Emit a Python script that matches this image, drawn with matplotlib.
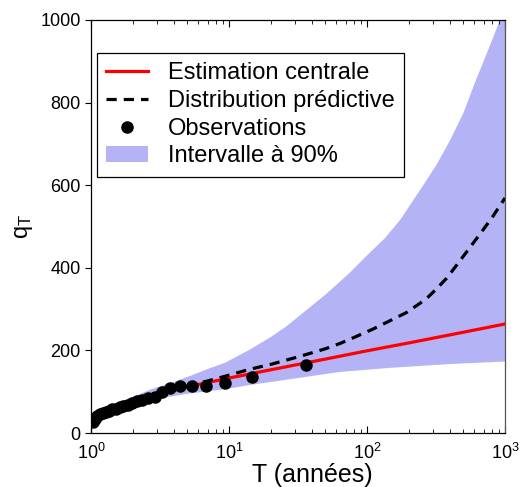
import numpy as np
import matplotlib
matplotlib.use('Agg')
import matplotlib.pyplot as plt

plt.rcParams['font.family'] = ['Liberation Sans', 'DejaVu Sans']
plt.rcParams['mathtext.default'] = 'regular'

# periode de retour (annees) et quantiles
T_central = [1.01, 1.02, 1.05, 1.1, 1.2, 1.5, 2, 3, 5, 10, 20, 50, 100, 200, 500, 1000]
q_central = [27, 32, 39, 45.5, 54, 67, 80, 95, 112, 133, 153, 179, 199, 218, 244, 264]

T_pred = [1.01, 1.02, 1.05, 1.1, 1.2, 1.5, 2, 3, 5, 7, 10, 14, 20, 33, 50, 64, 84,
          111, 147, 194, 242, 279, 321, 378, 450, 620, 800, 1000]
q_pred = [27, 32, 39, 45, 54, 67, 80, 96, 114, 126, 140, 154, 166, 186, 204, 217, 234,
          252, 272, 292, 314, 330, 350, 375, 408, 470, 520, 569]

T_obs = [36.0, 14.8, 9.33, 6.81, 5.36, 4.42, 3.76, 3.27, 2.90, 2.60, 2.36, 2.15, 1.98,
         1.84, 1.71, 1.61, 1.51, 1.42, 1.35, 1.28, 1.22, 1.16, 1.11, 1.07, 1.03]
q_obs = [165, 136, 121, 115, 115, 114, 108, 100, 88, 84, 80, 77, 73,
         69, 66, 62, 59, 57, 54, 51, 48, 45, 41, 35, 27]

# intervalle a 90%
T_up = [1.0, 1.01, 1.1, 1.5, 2, 2.68, 4, 5.4, 7, 9.35, 14, 20, 26, 33, 50, 75, 100,
        135, 174, 250, 320, 400, 500, 600, 750, 920, 1000]
q_up = [20, 29, 49, 72, 87, 105, 124, 140, 155, 170, 201, 232, 258, 286, 335, 388, 430,
         472, 516, 595, 650, 709, 775, 845, 925, 1000, 1040]
T_lo = [1.0, 1.01, 1.5, 2.68, 5, 9.35, 14, 33, 64, 150, 400, 1000]
q_lo = [18, 25, 60, 80, 95, 106, 116, 134, 148, 158, 167, 173]

fig = plt.figure(figsize=(5.22, 4.87), dpi=100)
ax = fig.add_axes([91 / 522, 1 - 433 / 487, 414 / 522, 413 / 487])

band_x = np.concatenate([T_up, T_lo[::-1]])
band_y = np.concatenate([q_up, q_lo[::-1]])
ax.fill(band_x, band_y, color='#b3b3f5', lw=0, label='Intervalle à 90%', zorder=1)
ax.plot(T_central, q_central, color='red', lw=2.3, label='Estimation centrale', zorder=2)
ax.plot(T_pred, q_pred, color='black', lw=2.3, ls=(0, (3.2, 2.2)),
        label='Distribution prédictive', zorder=3)
ax.plot(T_obs, q_obs, 'o', color='black', ms=8, label='Observations', zorder=4)

ax.set_xscale('log')
ax.set_xlim(1, 1000)
ax.set_ylim(0, 1000)
ax.set_yticks([0, 200, 400, 600, 800, 1000])
ax.tick_params(axis='x', which='both', direction='in', top=True, labelsize=13, pad=7)
ax.tick_params(axis='x', which='major', length=5)
ax.tick_params(axis='x', which='minor', length=3)
ax.tick_params(axis='y', direction='out', length=4, labelsize=13, right=False)
for s in ax.spines.values():
    s.set_linewidth(0.9)
ax.spines['right'].set_color('#555555')

ax.set_xlabel('T (années)', fontsize=18)
ax.xaxis.set_label_coords(0.534, -0.072)
ax.set_ylabel('$q_T$', fontsize=17, labelpad=4)

handles, labels = ax.get_legend_handles_labels()
order = [1, 2, 3, 0]
leg = ax.legend([handles[i] for i in order], [labels[i] for i in order],
                loc='upper left', bbox_to_anchor=(0.0145, 0.92), fontsize=17,
                frameon=True, fancybox=False, edgecolor='black', framealpha=1,
                handlelength=1.75, handletextpad=0.85, labelspacing=0.24,
                borderpad=0.4, borderaxespad=0)
leg.get_frame().set_linewidth(0.9)

fig.savefig('out.png', dpi=100)
